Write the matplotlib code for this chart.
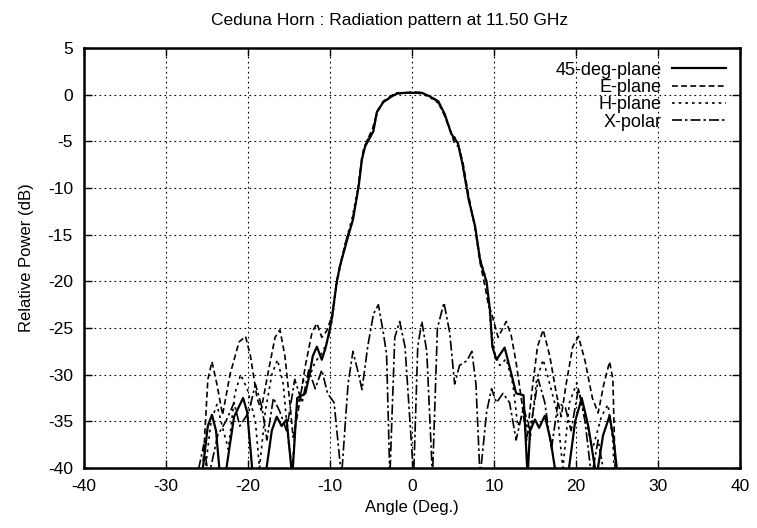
import matplotlib
matplotlib.use("Agg")
import matplotlib.pyplot as plt

plt.rcParams['font.family'] = ['Liberation Sans', 'DejaVu Sans']
plt.rcParams['axes.unicode_minus'] = False

title = "Ceduna Horn : Radiation pattern at 11.50 GHz"
xlabel = "Angle (Deg.)"
ylabel = "Relative Power (dB)"
labels = ["45-deg-plane", "E-plane", "H-plane", "X-polar"]
xticks = [-40, -30, -20, -10, 0, 10, 20, 30, 40]
yticks = [5, 0, -5, -10, -15, -20, -25, -30, -35, -40]

p45_x = [-27.2, -25.5, -24.9, -24.4, -23.9, -23.4, -22.8, -21.7, -20.6, -20.1, -19.4, -17.9, -17.1, -16.5,
         -15.9, -15.3, -14.6, -14.0, -13.0, -12.5, -12.1, -11.6, -11.0, -10.5, -10.0, -9.8, -9.2, -8.8,
         -7.8, -7.2, -6.5, -6.1, -5.7, -5.5, -4.7, -4.3, -3.5, -2.5, -1.9, -0.85, 0.2, 1.2, 2.2, 3.2, 4.0, 4.8,
         5.6, 6.2, 6.9, 7.7, 8.3, 9.1, 9.5, 9.8, 10.3, 11.3, 12.0, 12.7, 13.6, 14.1, 14.4, 15.0, 15.5,
         16.2, 16.9, 17.6, 19.0, 19.9, 20.7, 21.5, 22.5, 23.3, 24.1, 24.6, 25.1, 26.0]
p45_y = [-46, -40, -35.5, -34.3, -36, -41, -41, -34.5, -32.5, -34, -41, -41, -36, -34.5,
         -35.5, -34.8, -41, -32.5, -32, -30, -28.0, -27, -28.4, -27, -25, -24.1, -20.2, -18.4,
         -15.2, -13.4, -9.8, -6.9, -5.5, -5.2, -3.9, -1.9, -0.8, -0.2, 0.1, 0.2, 0.2, 0.2, -0.2, -0.7, -2.1, -4.2,
         -5.2, -7.6, -11.2, -14.1, -17.7, -20.1, -23, -27, -28.4, -27.1, -29.5, -32, -32.2, -41, -36, -34.8, -35.7,
         -34.4, -37, -41, -41, -35, -32.5, -35.5, -41, -36.5, -34.4, -37, -41, -46]

e_x = [-27.2, -25.5, -24.9, -24.4, -23.8, -23.1, -22.2, -21.1, -20.3, -19.7, -18.9, -18.4, -17.6, -16.7,
       -16.1, -15.5, -14.9, -14.5, -13.9, -13.0, -12.2, -11.6, -11.0, -10.4, -10.0, -9.7, -9.2, -8.7, -8.0,
       -7.3, -6.6, -6.2, -5.9, -5.5, -4.8, -4.2, -3.5, -2.5, -1.9, -0.85, 0.2, 1.2, 2.2, 3.2, 4.0, 4.7, 5.2, 5.7,
       6.2, 6.9, 7.7, 8.3, 8.9, 9.3, 9.7, 10.5, 11.5, 12.1, 12.7, 13.4, 14.0, 14.6, 15.3, 16.0, 16.8,
       17.6, 18.2, 18.8, 19.6, 20.3, 21.1, 22.0, 22.7, 23.4, 24.1, 24.5, 24.8, 26.0]
e_y = [-46, -40, -30.5, -28.6, -31, -34.3, -30, -26.5, -25.9, -28, -32.5, -33.8, -30, -26,
       -25.2, -28, -33, -36.7, -34, -29, -25.5, -24.5, -26, -25.3, -24.3, -23.5, -20.0, -18.0, -15.5,
       -13.6, -10.2, -7.3, -5.8, -5.0, -3.6, -1.7, -0.7, -0.1, 0.2, 0.2, 0.3, 0.2, -0.2, -0.8, -2.3, -4.0, -5.2, -5.6,
       -7.2, -10.8, -14.4, -18.0, -20.5, -22.5, -23.4, -26, -24.3, -25.8, -28.7, -33, -37, -32, -27, -25.2, -28,
       -32, -34.5, -31, -27, -25.9, -28.5, -32.5, -34.1, -31, -28.6, -30.5, -41, -46]

h_x = [-26.7, -25.2, -24.5, -23.8, -23.0, -22.4, -21.6, -20.9, -20.1, -19.1, -18.6, -17.9, -17.1, -16.4,
       -15.7, -15.1, -14.6, -14.1, -13.2, -12.4, -11.8, -11.2, -10.6, -10.0, -9.6, -9.2, -8.8, -8.1, -7.3,
       -6.5, -6.1, -5.6, -4.7, -4.2, -3.5, -2.5, -1.9, -0.85, 0.2, 1.2, 2.2, 3.2, 4.0, 4.8, 5.6, 6.2, 6.9, 7.7,
       8.3, 9.1, 9.6, 10.0, 10.7, 11.5, 12.3, 12.9, 13.6, 14.4, 15.2, 16.0, 16.8, 17.7, 18.4, 19.2, 20.1,
       21.0, 22.0, 23.1, 23.9, 24.5, 24.9]
h_y = [-46, -40, -35, -33.2, -36, -38, -32, -30.0, -31.5, -35, -40, -34, -30, -28.4,
       -31, -37, -40, -34, -30.5, -30, -28.6, -28.0, -27.0, -25.5, -23.2, -20.4, -18.6, -15.8, -13.2,
       -9.6, -6.6, -5.1, -3.7, -1.8, -0.8, -0.2, 0.1, 0.2, 0.2, 0.1, -0.3, -0.9, -2.2, -4.1, -5.0, -7.8, -11.0, -14.3,
       -17.5, -20.0, -24.5, -27.5, -29, -28.3, -31, -35.5, -34, -37, -30.5, -28.4, -31, -34, -40, -33, -30.9,
       -34, -38, -34.5, -33.2, -37, -46]

x_x = [-27.2, -26.0, -25.4, -24.8, -23.7, -22.7, -21.7, -21.0, -19.9, -19.1, -18.3, -17.7, -16.9, -16.1,
       -15.3, -14.3, -13.4, -12.6, -11.8, -11.0, -10.3, -9.5, -8.6, -7.8, -7.2, -6.5, -6.1, -5.4, -4.7,
       -4.1, -3.5, -3.1, -2.7, -2.1, -1.5, -0.85, -0.55, 0.2, 0.7, 1.2, 1.8, 2.5, 3.1, 3.9, 4.6, 5.2, 5.8,
       6.7, 7.3, 7.8, 8.3, 9.1, 9.7, 10.3, 11.1, 11.9, 12.7, 13.6, 14.4, 15.4, 16.2, 17.0, 17.8, 18.7,
       19.4, 20.3, 21.1, 21.9, 22.7, 23.5, 24.1, 24.9]
x_y = [-46, -40, -37.5, -41, -36.5, -35, -33, -35.5, -34, -31.0, -33.5, -37, -32.5, -34,
       -36, -30.5, -33, -29.5, -31.5, -29.5, -32, -33, -41, -31, -27.5, -30, -31.6, -27, -23.5,
       -22.5, -25.5, -27.8, -41, -26, -24.3, -27, -31, -41, -27, -24.3, -27.5, -41, -25, -22.3, -25.5, -31, -29,
       -28.5, -27.5, -31, -41, -34, -31.5, -33, -32, -33, -37, -33.5, -36, -30.5, -33, -38, -33, -33.5,
       -36, -31.5, -35, -41, -37, -41, -40.5, -46]

fig = plt.figure(figsize=(7.57, 5.28), dpi=100)
ax = fig.add_axes([0.111, 0.1136, 0.8665, 0.7955])

ax.plot(p45_x, p45_y, color='black', lw=1.6, ls='-', label=labels[0])
ax.plot(e_x, e_y, color='black', lw=1.2, ls=(0, (3.5, 2)), label=labels[1])
ax.plot(h_x, h_y, color='black', lw=1.2, ls=(0, (1.6, 2.4)), label=labels[2])
ax.plot(x_x, x_y, color='black', lw=1.2, ls=(0, (6, 1.8, 1.5, 1.8)), label=labels[3])

ax.set_xlim(-40, 40)
ax.set_ylim(-40, 5)
ax.set_xticks(xticks)
ax.set_yticks(yticks)
ax.grid(True, color='black', ls=(0, (1.5, 3)), lw=0.8)
ax.tick_params(direction='in', top=True, right=True, length=6, width=1.0, labelsize=12.5, pad=8)
for s in ax.spines.values():
    s.set_linewidth(1.8)

fig.text(0.515, 0.962, title, fontsize=12.5, ha='center', va='center')
ax.set_xlabel(xlabel, fontsize=12, labelpad=4)
ax.set_ylabel(ylabel, fontsize=12, labelpad=10)

leg = ax.legend(loc='upper right', frameon=False, markerfirst=False, fontsize=13,
                handlelength=3.0, handletextpad=0.6, labelspacing=0.02, borderpad=0.0,
                borderaxespad=0.75)

fig.savefig("out.png", dpi=100)
